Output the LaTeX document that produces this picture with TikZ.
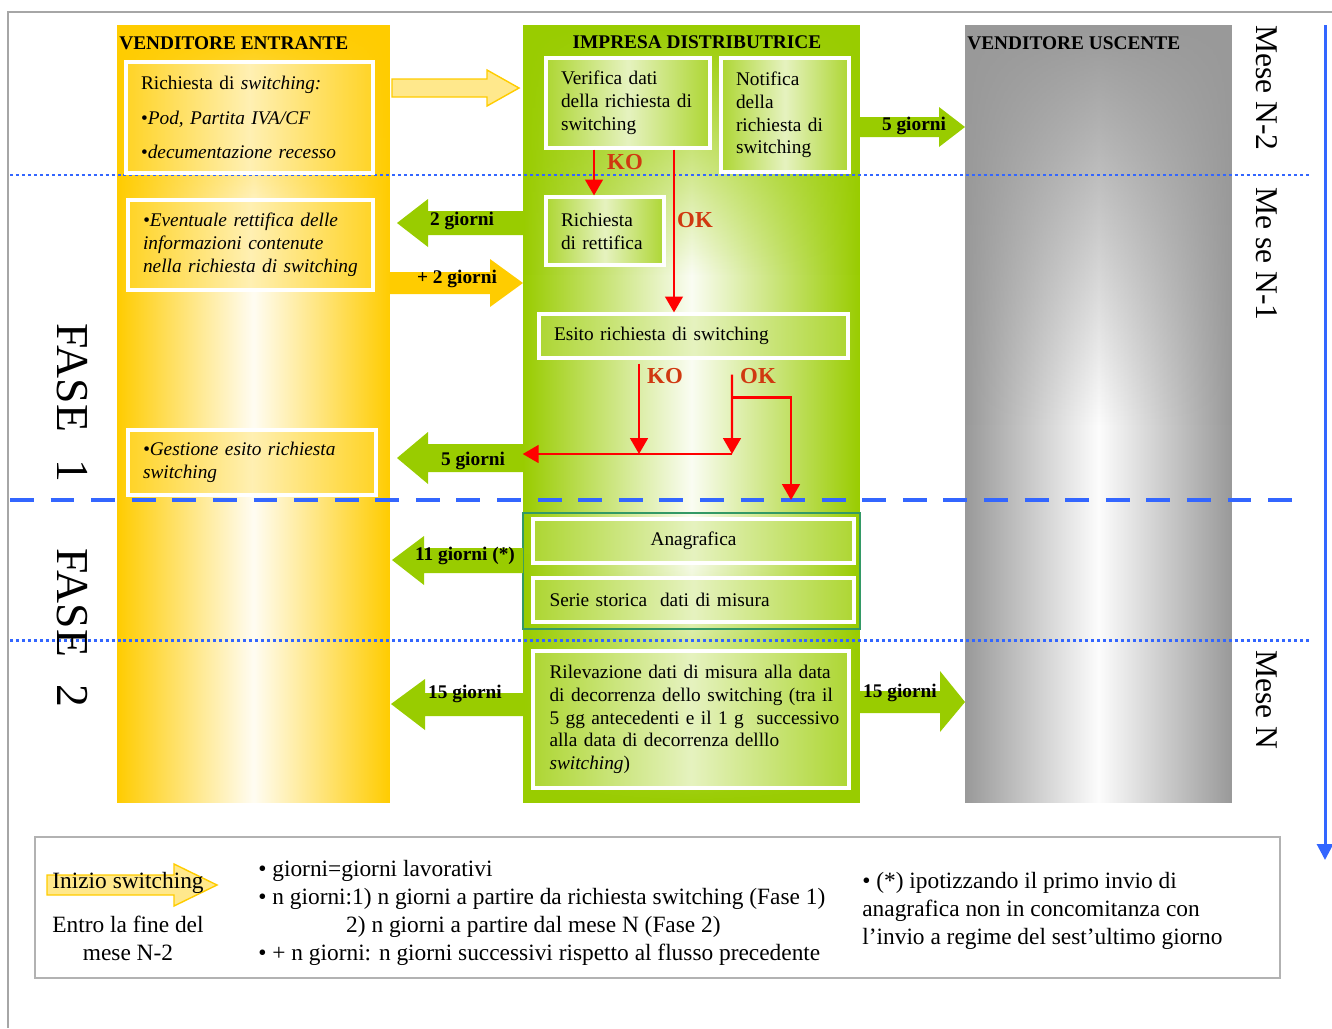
\documentclass[tikz,border=0pt]{standalone}
\usepackage{fontspec}
\setmainfont{Liberation Serif}
\usetikzlibrary{arrows.meta,fadings}

\definecolor{giallo}{RGB}{255,204,0}
\definecolor{verde}{RGB}{153,204,0}
\definecolor{grigio}{RGB}{153,153,153}
\definecolor{blu}{RGB}{51,102,255}
\definecolor{etich}{RGB}{208,56,16}
\definecolor{bordoverde}{RGB}{51,153,102}

\tikzfading[name=sfumagiu, top color=transparent!0, bottom color=transparent!100]
\tikzfading[name=sfumasu, top color=transparent!100, bottom color=transparent!0]

\begin{document}
\begin{tikzpicture}[x=0.02cm, y=-0.02cm,
    colonna/.style={minimum width=#1, minimum height=15.56cm, inner sep=0pt},
    titolo/.style={font=\fontsize{11}{13}\selectfont\bfseries, inner sep=0pt},
    ybox/.style={draw=white, line width=1.8pt, left color=giallo!85!white,
      right color=giallo!85!white, middle color=giallo!30!white,
      align=left, inner xsep=0.3cm, inner ysep=0pt, font=\fontsize{11}{13}\selectfont},
    gbox/.style={draw=white, line width=1.8pt, left color=verde!80!white,
      right color=verde!80!white, middle color=verde!25!white,
      align=left, inner xsep=0.3cm, inner ysep=0pt, font=\fontsize{11}{13}\selectfont},
    giorni/.style={font=\fontsize{11}{13}\selectfont\bfseries, inner sep=1pt},
    esito/.style={text=etich, font=\fontsize{13}{15}\selectfont\bfseries, inner sep=1pt},
    freccia/.style={draw=red, line width=1.4pt, -{Triangle[width=10pt,length=9pt]}},
    mese/.style={rotate=-90, font=\fontsize{18}{20}\selectfont, inner sep=0pt},
    fase/.style={rotate=-90, font=\fontsize{26}{28}\selectfont, inner sep=0pt},
    nota/.style={font=\fontsize{13.3}{15.9}\selectfont, align=left, inner sep=0pt}]

  \useasboundingbox (0,0) rectangle (1332,1028);
  \draw[gray!70, line width=1.1pt] (8,1028) -- (8,12) -- (1332,12);

  % colonne
  \node[colonna=5.46cm, left color=giallo, right color=giallo, middle color=giallo!5!white] (ent) at (253.5,414) {};
  \node[colonna=6.74cm, left color=verde, right color=verde, middle color=verde!5!white] (distr) at (691.5,414) {};
  \node[colonna=5.34cm, left color=grigio, right color=grigio, middle color=grigio!3!white] (usc) at (1098.5,414) {};
  \fill[giallo, path fading=sfumagiu] (ent.north west) rectangle ([yshift=-4.5cm]ent.north east);
  \fill[verde, path fading=sfumagiu] (distr.north west) rectangle ([yshift=-5cm]distr.north east);
  \fill[verde, path fading=sfumasu] ([yshift=5cm]distr.south west) rectangle (distr.south east);
  \fill[grigio, path fading=sfumagiu] (usc.north west) rectangle ([yshift=-8cm]usc.north east);

  \node[titolo, anchor=west] (tEnt) at (119,43) {VENDITORE ENTRANTE};
  \node[titolo] (tDistr) at (697,42) {IMPRESA DISTRIBUTRICE};
  \node[titolo, anchor=west] (tUsc) at (967,43) {VENDITORE USCENTE};

  % separatori
  \draw[blu, line width=1.7pt, dash pattern=on 1.7pt off 1.7pt] (10,175) -- (1310,175);
  \draw[blu, line width=1.7pt, dash pattern=on 1.7pt off 1.7pt] (10,640) -- (1310,640);
  \draw[blu, line width=2.8pt, dash pattern=on 13.6pt off 9.5pt] (10,500) -- (1300,500);
  \draw[blu, line width=1.7pt, -{Triangle[width=9pt,length=9pt]}] (1325,25) -- (1325,860);

  % venditore entrante
  \node[ybox, text width=4.34cm, minimum height=2.22cm] (req) at (249.5,117.5)
    {Richiesta di \textit{switching:}\\[6.8pt]
     •\textit{Pod, Partita IVA/CF}\\[6.8pt]
     •\textit{decumentazione recesso}};
  \node[ybox, text width=4.3cm, minimum height=1.8cm] (rett) at (250.5,245)
    {\textit{•Eventuale rettifica delle}\\
     \textit{informazioni contenute}\\
     \mbox{\textit{nella richiesta di switching}}};
  \node[ybox, text width=4.36cm, minimum height=1.3cm] (gest) at (252,462.5)
    {\textit{•Gestione esito richiesta}\\
     \textit{switching}};

  % impresa distributrice
  \node[gbox, text width=2.68cm, minimum height=1.8cm] (verif) at (628,103)
    {Verifica dati\\della richiesta di\\switching};
  \node[gbox, text width=1.96cm, minimum height=2.28cm] (notif) at (785,115)
    {Notifica\\della\\richiesta di\\switching};
  \node[gbox, text width=1.76cm, minimum height=1.36cm] (rich) at (605,231)
    {Richiesta\\di rettifica};
  \node[gbox, text width=5.58cm, minimum height=0.88cm] (esito) at (693.5,336)
    {Esito richiesta di switching};
  \draw[bordoverde, line width=1.2pt] (523,513) rectangle (860,629);
  \node[gbox, align=center, text width=5.82cm, minimum height=0.88cm] (anag) at (693.5,541)
    {Anagrafica};
  \node[gbox, text width=5.76cm, minimum height=0.88cm, inner xsep=0.33cm] (serie) at (693.5,600)
    {Serie storica\ \ dati di misura};
  \node[gbox, text width=5.66cm, minimum height=2.74cm, inner xsep=0.33cm] (rilev) at (691,719.5)
    {\mbox{Rilevazione dati di misura alla data}\\
     \mbox{di decorrenza dello switching (tra il}\\
     \mbox{5 gg antecedenti e il 1 g\ \ successivo}\\
     \mbox{alla data di decorrenza delllo}\\
     \textit{switching})};

  % frecce a blocco
  \fill[giallo!45!white, draw=giallo, line width=0.8pt] (392,79) -- (487,79) -- (487,70) -- (519,88)
    -- (487,106) -- (487,97) -- (392,97) -- cycle;
  \fill[verde] (523,211) -- (428,211) -- (428,199) -- (397,223) -- (428,247) -- (428,235) -- (523,235) -- cycle;
  \fill[giallo] (390,272) -- (490,272) -- (490,259) -- (523,283) -- (490,307) -- (490,294) -- (390,294) -- cycle;
  \fill[verde] (860,117) -- (939,117) -- (939,107) -- (965,127) -- (939,147) -- (939,137) -- (860,137) -- cycle;
  \fill[verde] (523,444) -- (428,444) -- (428,432) -- (397,458) -- (428,484) -- (428,472) -- (523,472) -- cycle;
  \fill[verde] (523,548) -- (424,548) -- (424,536) -- (392,560) -- (424,585) -- (424,573) -- (523,573) -- cycle;
  \fill[verde] (523,693) -- (425,693) -- (425,679) -- (391,704) -- (425,730) -- (425,716) -- (523,716) -- cycle;
  \fill[verde] (860,691) -- (940,691) -- (940,671) -- (965,702) -- (940,732) -- (940,713) -- (860,713) -- cycle;

  \node[giorni] (g2) at (462,221) {2 giorni};
  \node[giorni] (g2p) at (457,279) {+ 2 giorni};
  \node[giorni] (g5a) at (914,126) {5 giorni};
  \node[giorni] (g5b) at (473,461) {5 giorni};
  \node[giorni] (g11) at (465,556) {11 giorni (*)};
  \node[giorni] (g15a) at (465,694) {15 giorni};
  \node[giorni] (g15b) at (900,693) {15 giorni};

  % esiti KO / OK
  \coordinate (nodoOK) at (732,454);
  \coordinate (anagIn) at (791,500);
  \draw[freccia] ([xshift=-0.68cm]verif.south) -- ([xshift=-0.68cm]verif.south |- rich.north);
  \draw[freccia] ([xshift=0.92cm]verif.south) -- ([xshift=0.92cm]verif.south |- esito.north);
  \draw[freccia] ([xshift=-1.09cm,yshift=-0.08cm]esito.south) -- ([xshift=-1.09cm]esito.south |- nodoOK);
  \draw[freccia] ([xshift=0.77cm,yshift=-0.3cm]esito.south) -- (nodoOK);
  \draw[freccia] ([xshift=0.77cm,yshift=-0.76cm]esito.south) -| (anagIn);
  \draw[freccia] (nodoOK) -- (distr.west |- nodoOK);
  \node[esito] (ko1) at (625,162) {KO};
  \node[esito] (ok1) at (695,220) {OK};
  \node[esito] (ko2) at (665,376) {KO};
  \node[esito] (ok2) at (758,376) {OK};

  % mesi e fasi
  \node[mese] (m2) at (1267,88) {Mese N-2};
  \node[mese] (m1) at (1267,254) {Me se N-1};
  \node[mese] (m0) at (1267,700) {Mese N};
  \node[fase] (f1) at (72,403) {FASE\hspace{0.6em}1};
  \node[fase] (f2) at (72,628) {FASE\hspace{0.6em}2};

  % legenda
  \draw[gray!60, line width=1.2pt] (35,837) rectangle (1280,978);
  \fill[giallo!45!white, draw=giallo, line width=0.8pt] (47,875) -- (174,875) -- (174,864) -- (217,885)
    -- (174,906) -- (174,895) -- (47,895) -- cycle;
  \node[nota] (inizio) at (128,883) {Inizio switching};
  \node[nota, align=center] (entro) at (128,938) {Entro la fine del\\mese N-2};
  \node[nota, anchor=west] (spieg) at (258,913)
    {• giorni=giorni lavorativi\\
     • n giorni:1) n giorni a partire da richiesta switching (Fase 1)\\
     \hspace*{50pt}2) n giorni a partire dal mese N (Fase 2)\\
     • + n giorni: n giorni successivi rispetto al flusso precedente};
  \node[nota, anchor=west] (ipot) at (862,911)
    {• (*) ipotizzando il primo invio di\\
     anagrafica non in concomitanza con\\
     l’invio a regime del sest’ultimo giorno};
\end{tikzpicture}
\end{document}
